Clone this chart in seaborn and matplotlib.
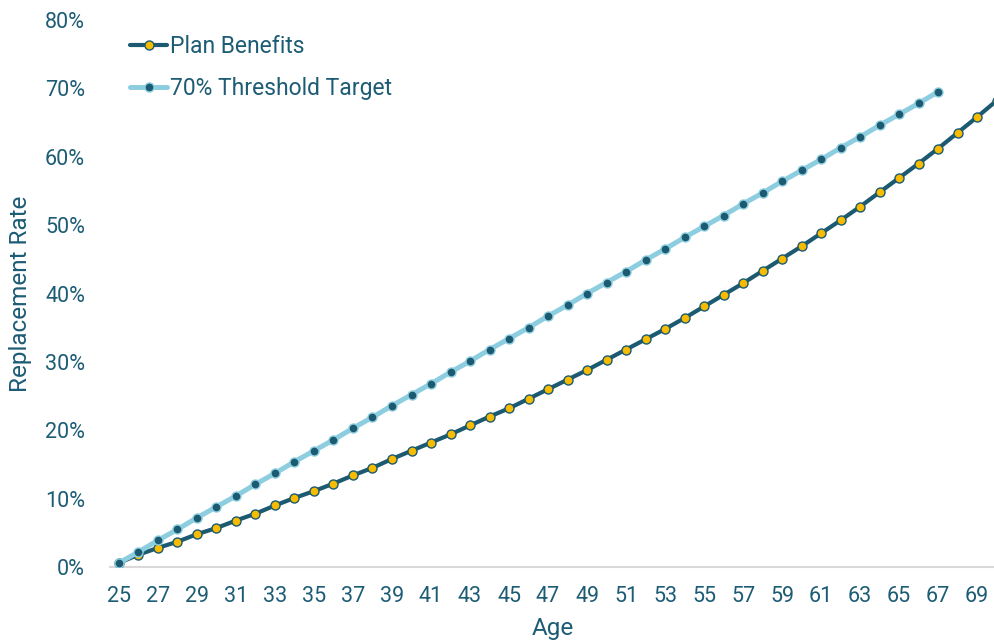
import matplotlib
matplotlib.use("Agg")
import matplotlib.pyplot as plt
import seaborn as sns
import pandas as pd
from matplotlib.ticker import FuncFormatter

plan_ages = list(range(25, 71))
plan_values = [0.6, 1.8, 2.8, 3.7, 4.8, 5.7, 6.8, 7.8, 9.0, 10.1, 11.1, 12.2, 13.4, 14.5,
               15.8, 17.0, 18.2, 19.4, 20.7, 22.0, 23.2, 24.6, 26.0, 27.4, 28.8, 30.3,
               31.8, 33.3, 34.8, 36.4, 38.1, 39.8, 41.5, 43.3, 45.1, 46.9, 48.8, 50.7,
               52.7, 54.8, 56.9, 59.0, 61.2, 63.5, 65.8, 68.2]
target_ages = list(range(25, 68))
target_values = [0.6, 2.2, 3.9, 5.5, 7.2, 8.8, 10.4, 12.1, 13.7, 15.4, 17.0, 18.6, 20.3,
                 21.9, 23.6, 25.2, 26.8, 28.5, 30.1, 31.8, 33.4, 35.0, 36.7, 38.3, 40.0,
                 41.6, 43.2, 44.9, 46.5, 48.2, 49.8, 51.4, 53.1, 54.7, 56.4, 58.0, 59.6,
                 61.3, 62.9, 64.6, 66.2, 67.8, 69.5]
x_ticks = list(range(25, 70, 2))
y_ticks = [0, 10, 20, 30, 40, 50, 60, 70, 80]
series_names = ["Plan Benefits", "70% Threshold Target"]

TEXT = "#1d5c75"
DARK = "#1b5a70"
LIGHT = "#8dcde0"
YELLOW = "#f7bb00"

sns.set_theme(style="white")
plt.rcParams['font.family'] = ['Roboto', 'DejaVu Sans']

plan_df = pd.DataFrame({"Age": plan_ages, "Rate": plan_values})
target_df = pd.DataFrame({"Age": target_ages, "Rate": target_values})

fig = plt.figure(figsize=(9.95, 6.42), dpi=100)
ax = fig.add_axes([110 / 995, 75 / 642, 885 / 995, 547 / 642])

sns.lineplot(data=plan_df, x="Age", y="Rate", ax=ax, color=DARK, linewidth=3.0,
             marker="o", markersize=6.5, markerfacecolor=YELLOW, markeredgecolor=DARK,
             markeredgewidth=1.0, label=series_names[0], zorder=3)
sns.lineplot(data=target_df, x="Age", y="Rate", ax=ax, color=LIGHT, linewidth=3.6,
             marker="o", markersize=6.5, markerfacecolor=DARK, markeredgecolor=LIGHT,
             markeredgewidth=1.0, label=series_names[1], zorder=4)

ax.set_xlim(24.54, 69.92)
ax.set_ylim(0, 80)
ax.set_xticks(x_ticks)
ax.set_yticks(y_ticks)
ax.yaxis.set_major_formatter(FuncFormatter(lambda v, p: f"{int(v)}%"))
ax.tick_params(axis="both", length=0, labelsize=15.5, labelcolor=TEXT)
ax.tick_params(axis="x", pad=14)
ax.tick_params(axis="y", pad=18)
ax.set_xlabel("Age", fontsize=17.5, color=TEXT, labelpad=7)
ax.set_ylabel("Replacement Rate", fontsize=17.5, color=TEXT, labelpad=9)
ax.grid(False)
for side in ["top", "right", "left"]:
    ax.spines[side].set_visible(False)
ax.spines["bottom"].set_color("#d9d9d9")
ax.spines["bottom"].set_linewidth(1.5)

leg = ax.legend(loc="upper left", bbox_to_anchor=(121 / 995, 1 - 26 / 642),
                bbox_transform=fig.transFigure, frameon=False, fontsize=16.5,
                handlelength=1.6, handletextpad=0.15, labelspacing=0.82,
                borderaxespad=0)
for t in leg.get_texts():
    t.set_color(TEXT)

fig.savefig("out.png", dpi=100)
